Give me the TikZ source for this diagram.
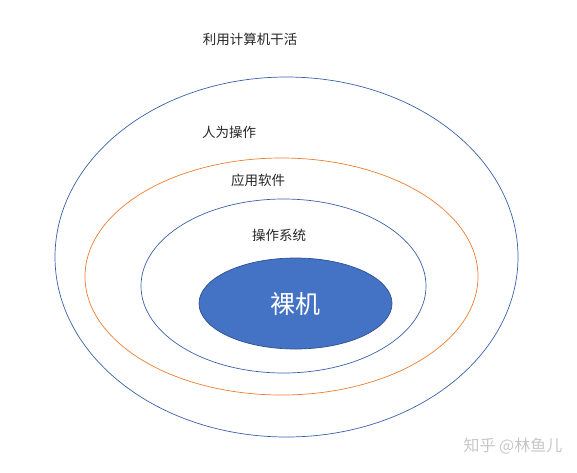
\documentclass[tikz,border=0pt]{standalone}
\usepackage{fontspec}
\setmainfont{Noto Sans CJK SC}
\usetikzlibrary{positioning,shapes.geometric}

\definecolor{ringblue}{HTML}{4472C4}
\definecolor{ringorange}{HTML}{ED7D31}
\definecolor{coreline}{HTML}{2F528F}

\begin{document}
\begin{tikzpicture}[
  x=1pt, y=-1pt,
  every node/.style={font=\fontsize{13.5}{15}\selectfont, text=black!85},
  ring/.style={draw=ringblue!85!black, ellipse, inner sep=0pt, line width=0.7pt},
  orangering/.style={ring, draw=ringorange},
  core/.style={ring, draw=coreline, fill=ringblue, text=white,
    font=\fontsize{25}{28}\selectfont},
  watermark/.style={font=\fontsize{16}{18}\selectfont, text=black!22}
]
\useasboundingbox (0,0) rectangle (577,472);
% rings, outside in
\node[ring, minimum width=463, minimum height=360] (outer) at (286.5,257) {};
\node[orangering, minimum width=393, minimum height=237] (apps) at (281.5,276.5) {};
\node[ring, minimum width=285, minimum height=174] (os) at (283.5,286) {};
\node[core, minimum width=193, minimum height=91] (bare) at (295.5,303.5) {裸机};
% labels
\node (title) at (250,39) {利用计算机干活};
\node (human) at (229,132) {人为操作};
\node (appsl) at (258,180) {应用软件};
\node (osl) at (279,235) {操作系统};
\node[watermark] (zhihu) at (513,446) {知乎 @林鱼儿};
\end{tikzpicture}
\end{document}
